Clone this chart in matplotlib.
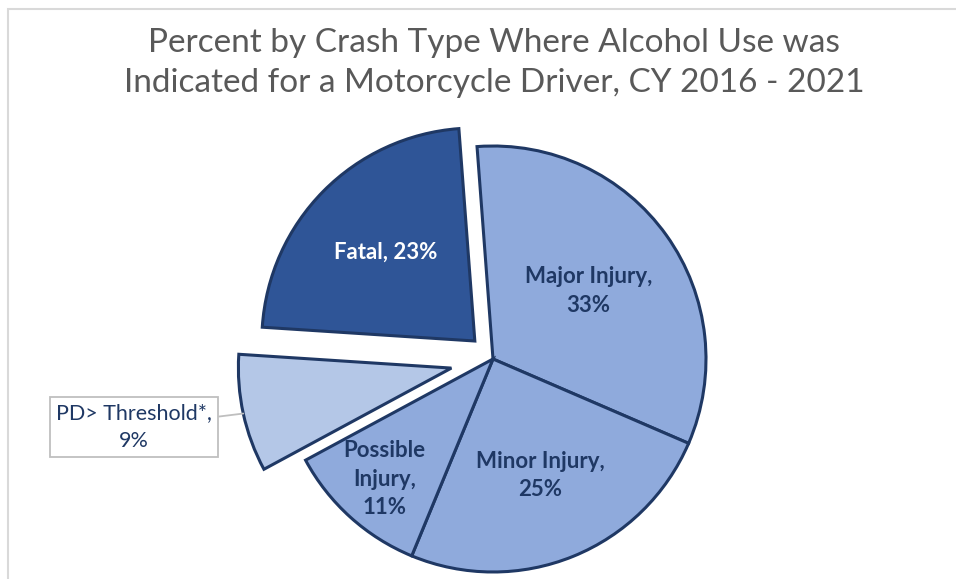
import matplotlib.pyplot as plt
from matplotlib.patches import Rectangle
import numpy as np

plt.rcParams['font.family'] = ['Lato', 'DejaVu Sans']

# data
categories = ['Major Injury', 'Minor Injury', 'Possible Injury', 'PD> Threshold*', 'Fatal']
percents = [33, 25, 11, 9, 23]
label_text = ['Major Injury,\n33%', 'Minor Injury,\n25%', 'Possible\nInjury,\n11%',
              'PD> Threshold*,\n9%', 'Fatal, 23%']
title = 'Percent by Crash Type Where Alcohol Use was\nIndicated for a Motorcycle Driver, CY 2016 - 2021'

colors = ['#8FAADC', '#8FAADC', '#8FAADC', '#B4C7E7', '#2F5597']
explode_frac = [0, 0, 0, 0.2, 0.12]
edge = '#1F3864'

W, H = 956, 579
fig = plt.figure(figsize=(W / 100, H / 100), dpi=100)
ax = fig.add_axes([0, 0, 1, 1])

# chart area border (light gray, cropped on right/bottom)
ax.add_patch(Rectangle((8, -5), W + 10, H - 9 + 5, fill=False, ec='#D9D9D9', lw=1.5))

cx, cy, R = 493, H - 359, 213
explode = [e * R for e in explode_frac]
wedges, _ = ax.pie(percents, colors=colors, explode=explode, startangle=94.3,
                   counterclock=False, center=(cx, cy), radius=R, frame=True,
                   wedgeprops=dict(edgecolor=edge, linewidth=2.2, joinstyle='miter'))
ax.set_xlim(0, W)
ax.set_ylim(0, H)
ax.set_aspect('equal')
ax.axis('off')

# labels inside wedges (fraction of radius along wedge mid-angle)
lab_r = [0.55, 0.59, 0.76, None, 0.59]
for i, w in enumerate(wedges):
    if lab_r[i] is None:
        continue
    ang = np.deg2rad((w.theta1 + w.theta2) / 2)
    x = w.center[0] + lab_r[i] * R * np.cos(ang)
    y = w.center[1] + lab_r[i] * R * np.sin(ang)
    col = 'white' if i == 4 else edge
    ax.text(x, y, label_text[i], ha='center', va='center', fontsize=16,
            fontweight='bold', color=col, linespacing=1.45)

# callout for PD> Threshold
w = wedges[3]
ang = np.deg2rad((w.theta1 + w.theta2) / 2)
px = w.center[0] + R * np.cos(ang)
py = w.center[1] + R * np.sin(ang)
ax.annotate(label_text[3], xy=(px, py), xytext=(134, H - 427),
            ha='center', va='center', fontsize=15.5, color=edge, linespacing=1.45,
            bbox=dict(boxstyle='square,pad=0.3', fc='white', ec='#BFBFBF', lw=1.3),
            arrowprops=dict(arrowstyle='-', color='#BFBFBF', lw=1.3,
                            shrinkA=0, shrinkB=0))

fig.text(494 / W, 1 - 63 / H, title, ha='center', va='center', fontsize=24,
         color='#595959', linespacing=1.45)

fig.savefig('out.png', dpi=100)
